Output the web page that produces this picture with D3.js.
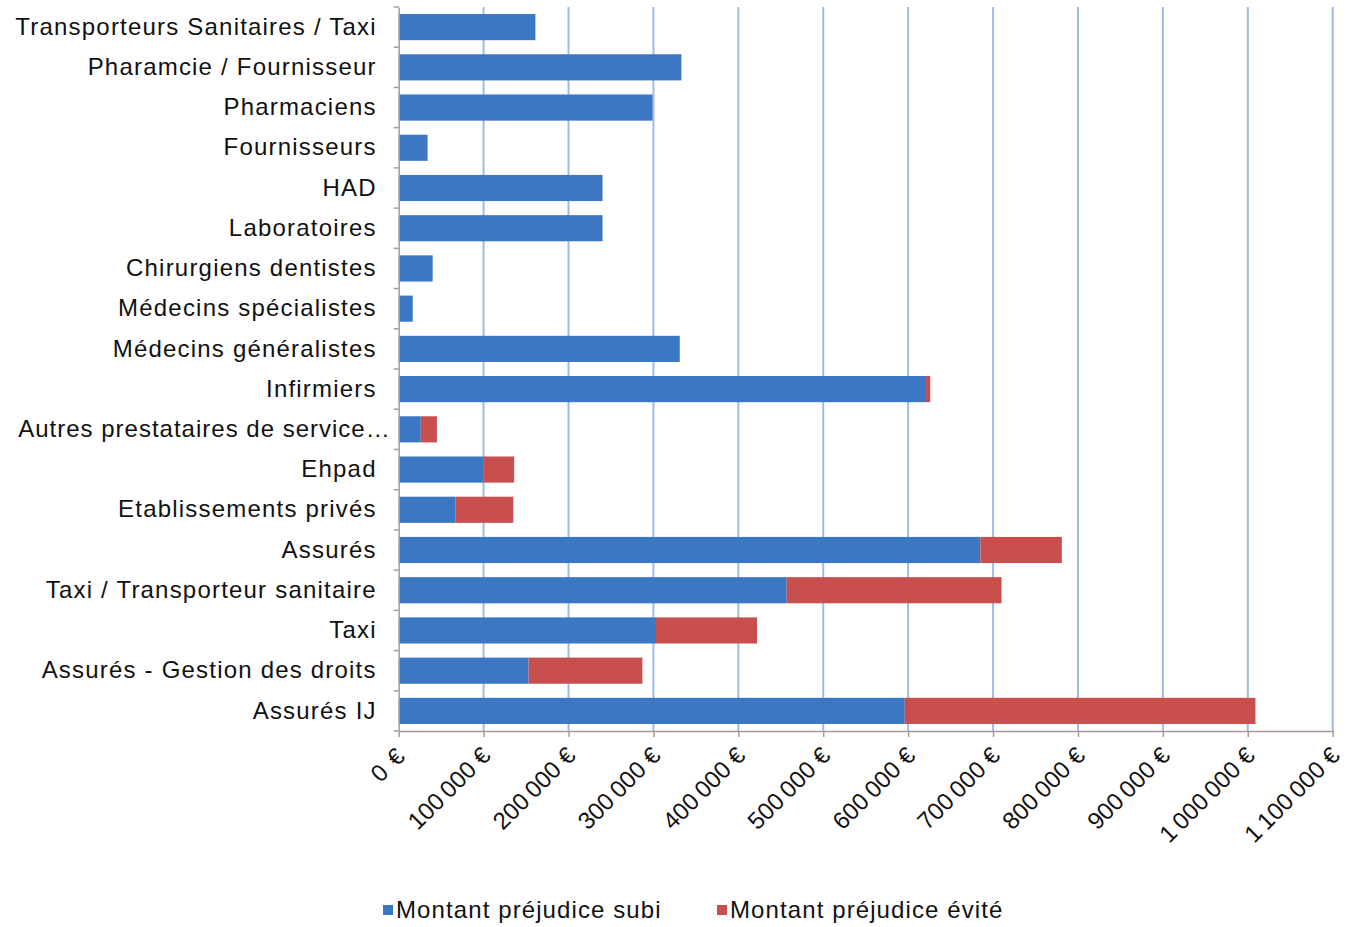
<!DOCTYPE html>
<html>
<head>
<meta charset="utf-8">
<script src="https://cdn.jsdelivr.net/npm/d3@7"></script>
<style>
  body { margin: 0; background: #fff; }
  text { font-family: "Liberation Sans", Arial, sans-serif; fill: #111; }
</style>
</head>
<body>
<svg id="chart" width="1352" height="927"></svg>
<script>
// categories, top to bottom
var categories = [
    "Transporteurs Sanitaires / Taxi", "Pharamcie / Fournisseur", "Pharmaciens",
    "Fournisseurs", "HAD", "Laboratoires", "Chirurgiens dentistes",
    "Médecins spécialistes", "Médecins généralistes", "Infirmiers",
    "Autres prestataires de service…", "Ehpad", "Etablissements privés",
    "Assurés", "Taxi / Transporteur sanitaire", "Taxi",
    "Assurés - Gestion des droits", "Assurés IJ"
];

// Montant préjudice subi (€)
var subi = [161000, 333000, 299000, 34000, 240000, 240000, 40000, 16500, 331000,
            621000, 26000, 100000, 67000, 685000, 457000, 303000, 153000, 596000];

// Montant préjudice évité (€)
var evite = [0, 0, 0, 0, 0, 0, 0, 0, 0,
             5000, 19000, 36000, 68000, 96000, 253000, 119000, 134000, 413000];

var seriesNames = ["Montant préjudice subi", "Montant préjudice évité"];
var colors = ["#3b77c2", "#c94f4f"];

var xTicks = d3.range(0, 1100001, 100000);

var margin = {left: 398.7, right: 19.3, top: 7, bottom: 196};
var width = 1352, height = 927;
var svg = d3.select("#chart");

var x = d3.scaleLinear().domain([0, 1100000]).range([margin.left, width - margin.right]);
var y = d3.scaleBand().domain(categories).range([margin.top, height - margin.bottom]).paddingInner(0.35).paddingOuter(0.175);

// grid
svg.append("g").selectAll("line")
    .data(xTicks.slice(1))
    .enter().append("line")
    .attr("x1", function(d) { return x(d); })
    .attr("x2", function(d) { return x(d); })
    .attr("y1", margin.top)
    .attr("y2", height - margin.bottom)
    .attr("stroke", "#9dbbe6")
    .attr("stroke-width", 2);

// stacked data
var table = categories.map(function(c, i) { return {cat: c, subi: subi[i], evite: evite[i]}; });
var stack = d3.stack().keys(["subi", "evite"])(table);

svg.append("g").selectAll("g")
    .data(stack)
    .enter().append("g")
    .attr("fill", function(d, i) { return colors[i]; })
    .selectAll("rect")
    .data(function(d) { return d; })
    .enter().append("rect")
    .attr("x", function(d) { return x(d[0]); })
    .attr("width", function(d) { return x(d[1]) - x(d[0]); })
    .attr("y", function(d) { return y(d.data.cat); })
    .attr("height", y.bandwidth());

// x axis
var xAxis = svg.append("g")
    .attr("transform", "translate(0," + (height - margin.bottom) + ")")
    .call(d3.axisBottom(x).tickValues(xTicks).tickSize(6).tickSizeOuter(0)
        .tickFormat(function(d) { return d3.format(",")(d).replace(/,/g, "\u202f") + " €"; }));
xAxis.select(".domain").attr("stroke", "#a89a96").attr("stroke-width", 1.5);
xAxis.selectAll(".tick line").attr("stroke", "#a89a96").attr("stroke-width", 1.5);
xAxis.selectAll(".tick text")
    .attr("font-size", 24)
    .attr("letter-spacing", 1.4)
    .attr("text-anchor", "end")
    .attr("dy", "0.35em")
    .attr("transform", "translate(2,20) rotate(-45)")
    .attr("x", 0).attr("y", 0);

// y axis
var yAxis = svg.append("g")
    .attr("transform", "translate(" + margin.left + ",0)")
    .call(d3.axisLeft(y).tickSize(0).tickPadding(22));
yAxis.select(".domain").attr("stroke", "#a89a96").attr("stroke-width", 1.5);
yAxis.selectAll(".tick text").attr("font-size", 24).attr("letter-spacing", 1.2);
// the truncated label runs a little past the others, as in the original
yAxis.selectAll(".tick text")
    .filter(function(d) { return d.indexOf("…") >= 0; })
    .attr("dx", 14)
    .attr("letter-spacing", 1.0);

// small tick marks between categories
var step = y.step();
svg.append("g").selectAll("line")
    .data(d3.range(categories.length + 1))
    .enter().append("line")
    .attr("x1", margin.left - 5)
    .attr("x2", margin.left)
    .attr("y1", function(i) { return margin.top + i * step; })
    .attr("y2", function(i) { return margin.top + i * step; })
    .attr("stroke", "#a89a96")
    .attr("stroke-width", 1.5);

// legend
var legendX = [383, 717];
var legend = svg.append("g").selectAll("g")
    .data(seriesNames)
    .enter().append("g")
    .attr("transform", function(d, i) { return "translate(" + legendX[i] + ",910)"; });
legend.append("rect")
    .attr("x", 0).attr("y", -5).attr("width", 10).attr("height", 10)
    .attr("fill", function(d, i) { return colors[i]; });
legend.append("text")
    .attr("x", 13).attr("dy", "0.35em")
    .attr("font-size", 24)
    .attr("letter-spacing", 1.1)
    .text(function(d) { return d; });
</script>
</body>
</html>
